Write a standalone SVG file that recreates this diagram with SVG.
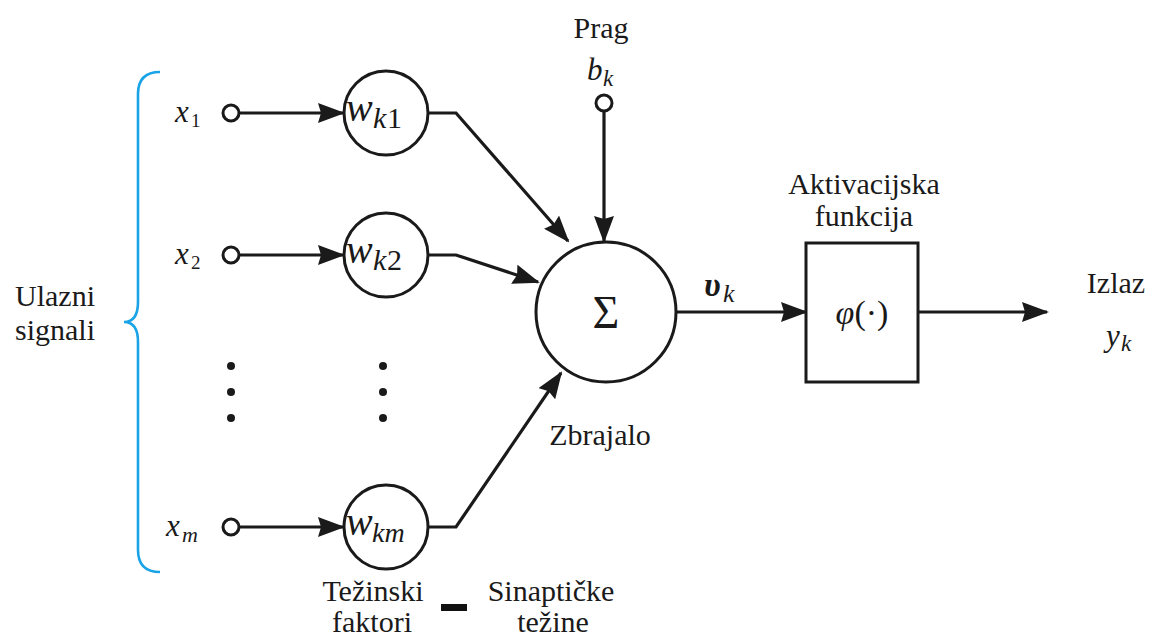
<svg xmlns="http://www.w3.org/2000/svg" width="1154" height="641" viewBox="0 0 1154 641">
<defs>
<marker id="arrow" markerWidth="27" markerHeight="20" refX="25" refY="10" orient="auto" markerUnits="userSpaceOnUse">
<path d="M0,0 L27,10 L0,20 L3,10 Z" fill="#1a1a1a"/>
</marker>
</defs>
<rect width="1154" height="641" fill="#ffffff"/>

<g id="brace-inputs">
<path d="M160,72 Q138,72 138,94 L138,302 Q138,322 124,322 Q138,322 138,342 L138,550 Q138,572 160,572" fill="none" stroke="#1aa3e6" stroke-width="2.6"/>
<text x="55" y="306" text-anchor="middle" style="font-family:'Liberation Serif','Times New Roman',serif;font-size:30px" fill="#1a1a1a">Ulazni</text>
<text x="55" y="340" text-anchor="middle" style="font-family:'Liberation Serif','Times New Roman',serif;font-size:30px" fill="#1a1a1a">signali</text>
</g>

<g id="edges" fill="none" stroke="#1a1a1a" stroke-width="3.2">
<path d="M240,113 H343" marker-end="url(#arrow)"/>
<path d="M240,255 H343" marker-end="url(#arrow)"/>
<path d="M240,527 H343" marker-end="url(#arrow)"/>
<path d="M429,113 H456 L568,241" marker-end="url(#arrow)"/>
<path d="M429,255 H456 L538,282" marker-end="url(#arrow)"/>
<path d="M429,527 H456 L561,373" marker-end="url(#arrow)"/>
<path d="M604,111 V241" marker-end="url(#arrow)"/>
<path d="M676,312 H806" marker-end="url(#arrow)"/>
<path d="M918,312 H1047" marker-end="url(#arrow)"/>
</g>

<g id="in-x1">
<circle cx="231" cy="113" r="8" fill="#fff" stroke="#1a1a1a" stroke-width="3"/>
<text x="175" y="122" style="font-family:'Liberation Serif','Times New Roman',serif;font-size:31px;font-style:italic" fill="#1a1a1a">x</text>
<text x="191" y="127" style="font-family:'Liberation Serif','Times New Roman',serif;font-size:19px" fill="#1a1a1a">1</text>
</g>
<g id="in-x2">
<circle cx="231" cy="255" r="8" fill="#fff" stroke="#1a1a1a" stroke-width="3"/>
<text x="175" y="264" style="font-family:'Liberation Serif','Times New Roman',serif;font-size:31px;font-style:italic" fill="#1a1a1a">x</text>
<text x="191" y="269" style="font-family:'Liberation Serif','Times New Roman',serif;font-size:19px" fill="#1a1a1a">2</text>
</g>
<g id="in-xm">
<circle cx="231" cy="527" r="8" fill="#fff" stroke="#1a1a1a" stroke-width="3"/>
<text x="166" y="536" style="font-family:'Liberation Serif','Times New Roman',serif;font-size:31px;font-style:italic" fill="#1a1a1a">x</text>
<text x="182" y="542" style="font-family:'Liberation Serif','Times New Roman',serif;font-size:22px;font-style:italic" fill="#1a1a1a">m</text>
</g>

<g id="ellipsis" fill="#1a1a1a">
<circle cx="231" cy="366" r="4"/>
<circle cx="231" cy="392" r="4"/>
<circle cx="231" cy="418" r="4"/>
<circle cx="383" cy="366" r="4"/>
<circle cx="383" cy="392" r="4"/>
<circle cx="383" cy="418" r="4"/>
</g>

<g id="weight-1">
<circle cx="386" cy="113" r="42" fill="#fff" stroke="#1a1a1a" stroke-width="3"/>
<text x="346" y="121" style="font-family:'Liberation Serif','Times New Roman',serif;font-size:40px;font-style:italic" fill="#1a1a1a">w</text>
<text x="373" y="128" style="font-family:'Liberation Serif','Times New Roman',serif;font-size:30px;font-style:italic" fill="#1a1a1a">k</text>
<text x="387" y="128" style="font-family:'Liberation Serif','Times New Roman',serif;font-size:30px" fill="#1a1a1a">1</text>
</g>
<g id="weight-2">
<circle cx="386" cy="255" r="42" fill="#fff" stroke="#1a1a1a" stroke-width="3"/>
<text x="346" y="263" style="font-family:'Liberation Serif','Times New Roman',serif;font-size:40px;font-style:italic" fill="#1a1a1a">w</text>
<text x="373" y="270" style="font-family:'Liberation Serif','Times New Roman',serif;font-size:30px;font-style:italic" fill="#1a1a1a">k</text>
<text x="387" y="270" style="font-family:'Liberation Serif','Times New Roman',serif;font-size:30px" fill="#1a1a1a">2</text>
</g>
<g id="weight-m">
<circle cx="386" cy="527" r="42" fill="#fff" stroke="#1a1a1a" stroke-width="3"/>
<text x="346" y="535" style="font-family:'Liberation Serif','Times New Roman',serif;font-size:40px;font-style:italic" fill="#1a1a1a">w</text>
<text x="372" y="542" style="font-family:'Liberation Serif','Times New Roman',serif;font-size:28px;font-style:italic" fill="#1a1a1a">km</text>
</g>

<g id="bias-bk">
<text x="601" y="38" text-anchor="middle" style="font-family:'Liberation Serif','Times New Roman',serif;font-size:30px" fill="#1a1a1a">Prag</text>
<text x="587" y="80" style="font-family:'Liberation Serif','Times New Roman',serif;font-size:31px;font-style:italic" fill="#1a1a1a">b</text>
<text x="603" y="86" style="font-family:'Liberation Serif','Times New Roman',serif;font-size:23px;font-style:italic" fill="#1a1a1a">k</text>
<circle cx="604" cy="103" r="8" fill="#fff" stroke="#1a1a1a" stroke-width="3"/>
</g>

<g id="summer">
<circle cx="606" cy="312" r="70" fill="#fff" stroke="#1a1a1a" stroke-width="3"/>
<text x="606" y="328" text-anchor="middle" style="font-family:'Liberation Serif','Times New Roman',serif;font-size:46px" fill="#1a1a1a">Σ</text>
<text x="600" y="445" text-anchor="middle" style="font-family:'Liberation Serif','Times New Roman',serif;font-size:30px" fill="#1a1a1a">Zbrajalo</text>
</g>

<g id="signal-vk">
<text x="704" y="296" style="font-family:'Liberation Serif','Times New Roman',serif;font-size:34px;font-style:italic;font-weight:bold" fill="#1a1a1a">υ</text>
<text x="723" y="302" style="font-family:'Liberation Serif','Times New Roman',serif;font-size:26px;font-style:italic" fill="#1a1a1a">k</text>
</g>

<g id="activation">
<text x="864" y="194" text-anchor="middle" style="font-family:'Liberation Serif','Times New Roman',serif;font-size:30px" fill="#1a1a1a">Aktivacijska</text>
<text x="864" y="226" text-anchor="middle" style="font-family:'Liberation Serif','Times New Roman',serif;font-size:30px" fill="#1a1a1a">funkcija</text>
<rect x="806" y="243" width="112" height="139" fill="#fff" stroke="#1a1a1a" stroke-width="3"/>
<text x="862" y="324" text-anchor="middle" style="font-family:'Liberation Serif','Times New Roman',serif;font-size:34px" fill="#1a1a1a"><tspan font-style="italic">φ</tspan>(·)</text>
</g>

<g id="output-yk">
<text x="1116" y="293" text-anchor="middle" style="font-family:'Liberation Serif','Times New Roman',serif;font-size:30px" fill="#1a1a1a">Izlaz</text>
<text x="1106" y="346" style="font-family:'Liberation Serif','Times New Roman',serif;font-size:31px;font-style:italic" fill="#1a1a1a">y</text>
<text x="1121" y="351" style="font-family:'Liberation Serif','Times New Roman',serif;font-size:23px;font-style:italic" fill="#1a1a1a">k</text>
</g>

<g id="caption">
<text x="373" y="601" text-anchor="middle" style="font-family:'Liberation Serif','Times New Roman',serif;font-size:30px" fill="#1a1a1a">Težinski</text>
<text x="372" y="632" text-anchor="middle" style="font-family:'Liberation Serif','Times New Roman',serif;font-size:30px" fill="#1a1a1a">faktori</text>
<rect x="441" y="604" width="26" height="7" fill="#111"/>
<text x="551" y="601" text-anchor="middle" style="font-family:'Liberation Serif','Times New Roman',serif;font-size:30px" fill="#1a1a1a">Sinaptičke</text>
<text x="553" y="632" text-anchor="middle" style="font-family:'Liberation Serif','Times New Roman',serif;font-size:30px" fill="#1a1a1a">težine</text>
</g>
</svg>
